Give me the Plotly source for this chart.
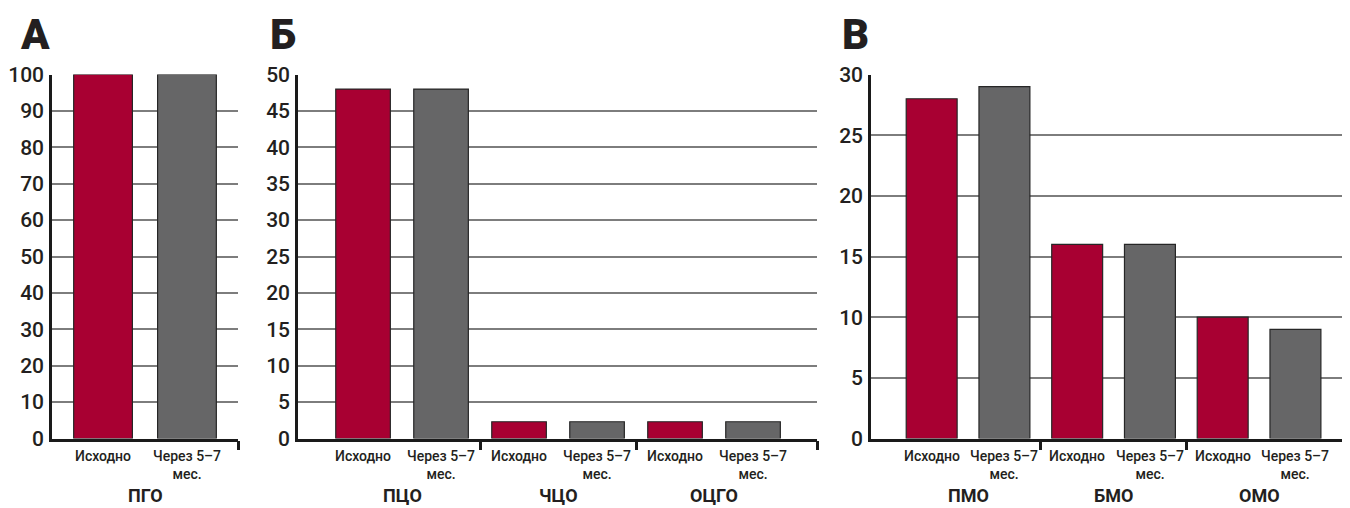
import plotly.graph_objects as go

# ---- data ----
series_names = ["Исходно", "Через 5–7<br>мес."]
colors = ["#a80032", "#666667"]

cats_a = ["ПГО"]
base_a = [100]
after_a = [100]

cats_b = ["ПЦО", "ЧЦО", "ОЦГО"]
base_b = [48, 2.3, 2.3]
after_b = [48, 2.3, 2.3]

cats_c = ["ПМО", "БМО", "ОМО"]
base_c = [28, 16, 10]
after_c = [29, 16, 9]

panel_letters = ["А", "Б", "В"]
y_max = [100, 50, 30]
y_step = [10, 5, 5]

# page offset (body margin) compensation
OFF = 8
W, H = 1350 - OFF, 508 - OFF
FONT = "Roboto"
TXT = "#231f20"


def px_x(X):
    return (X - OFF) / W


def px_y(Y):
    return 1 - (Y - OFF) / H


# pixel layout targets (screen coordinates)
plot_top, plot_bottom = 74.5, 438.5
x_dom_px = [(52, 238), (298, 817), (871, 1350)]
x_ranges = [(-0.554, 0.554), (-0.667, 2.66), (-0.667, 2.625)]
letter_x_px = [18, 268, 840]

panels = [
    (cats_a, base_a, after_a),
    (cats_b, base_b, after_b),
    (cats_c, base_c, after_c),
]

fig = go.Figure()
y_dom = [px_y(plot_bottom), px_y(plot_top)]

annotations = []
for i, (cats, b, a) in enumerate(panels):
    ax = "" if i == 0 else str(i + 1)
    xs = list(range(len(cats)))
    for s, (vals, col) in enumerate(zip([b, a], colors)):
        fig.add_trace(go.Bar(
            x=xs, y=vals, name=series_names[s],
            marker=dict(color=col, line=dict(color="#262626", width=1.2)),
            xaxis="x" + ax, yaxis="y" + ax, showlegend=False,
            offsetgroup=str(s),
        ))
    d0, d1 = x_dom_px[i]
    r0, r1 = x_ranges[i]
    boundaries = [k + 0.5 for k in range(len(cats) - 1)]
    if i < 2:
        boundaries.append(r1)
    fig.layout["xaxis" + ax] = dict(
        domain=[px_x(d0), min(1.0, px_x(d1))], range=[r0, r1], anchor="y" + ax,
        showgrid=False, zeroline=False, showline=True,
        linecolor="#1a1a1a", linewidth=2.5,
        tickmode="array", tickvals=boundaries, ticktext=[""] * len(boundaries),
        ticks="outside", ticklen=9, tickwidth=2.5, tickcolor="#1a1a1a",
        showticklabels=False, fixedrange=True, automargin=False,
    )
    fig.layout["yaxis" + ax] = dict(
        domain=y_dom, range=[0, y_max[i]], anchor="x" + ax,
        dtick=y_step[i], tick0=0,
        showgrid=True, gridcolor="#7d7d7d", gridwidth=2,
        zeroline=False, showline=True, linecolor="#1a1a1a", linewidth=2.5,
        ticks="", ticklen=0, ticklabelstandoff=1, automargin=False,
        tickfont=dict(family=FONT, size=21, color=TXT, weight=500),
    )
    # sub labels under each bar & group labels
    for k, c in enumerate(cats):
        for s, off in enumerate([-0.25, 0.25]):
            annotations.append(dict(
                x=k + off, y=px_y(446), xref="x" + ax, yref="paper",
                text=series_names[s], showarrow=False, yanchor="top",
                xanchor="center", align="center",
                font=dict(family=FONT, size=14, color=TXT, weight=500),
            ))
        annotations.append(dict(
            x=k, y=px_y(495), xref="x" + ax, yref="paper",
            text=c, showarrow=False, yanchor="middle", xanchor="center",
            font=dict(family=FONT, size=18, color=TXT, weight=700),
        ))
    annotations.append(dict(
        x=px_x(letter_x_px[i]), y=1, xref="paper", yref="paper",
        text=panel_letters[i], showarrow=False, xanchor="left", yanchor="top",
        font=dict(family=FONT, size=42, color=TXT, weight=900),
    ))

fig.update_layout(
    width=W, height=H,
    margin=dict(l=0, r=0, t=0, b=0, autoexpand=False),
    paper_bgcolor="white", plot_bgcolor="white",
    barmode="group", bargap=0, bargroupgap=0.3,
    annotations=annotations,
)

fig.write_html("out.html")
